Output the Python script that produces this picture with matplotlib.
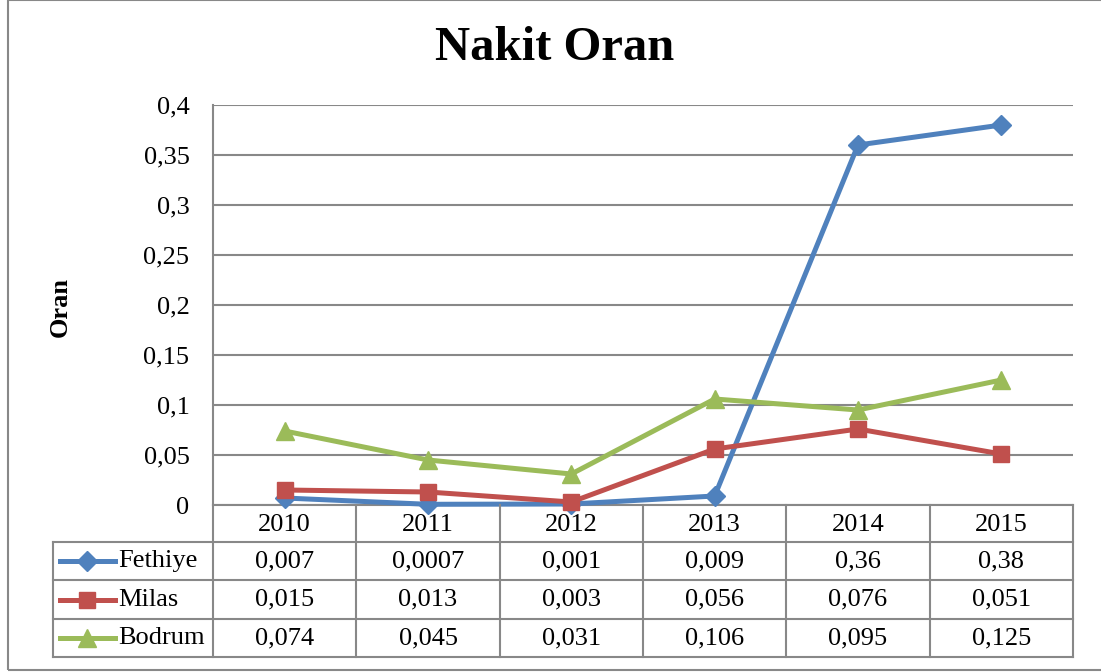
import numpy as np
import matplotlib.pyplot as plt
from matplotlib.patches import Rectangle
from matplotlib.lines import Line2D

plt.rcParams['font.family'] = ['Liberation Serif', 'DejaVu Serif']

years = ['2010', '2011', '2012', '2013', '2014', '2015']
fethiye = [0.007, 0.0007, 0.001, 0.009, 0.36, 0.38]
milas = [0.015, 0.013, 0.003, 0.056, 0.076, 0.051]
bodrum = [0.074, 0.045, 0.031, 0.106, 0.095, 0.125]
names = ['Fethiye', 'Milas', 'Bodrum']
colors = ['#4F81BD', '#C0504D', '#9BBB59']
markers = ['D', 's', '^']
msizes = [10, 12, 13]
yticks = [0, 0.05, 0.1, 0.15, 0.2, 0.25, 0.3, 0.35, 0.4]

W, H = 1101, 672
fig = plt.figure(figsize=(W / 100, H / 100), dpi=100)
grid_c = '#888888'
fs = 19

# outer border
fig.patches.append(Rectangle((8 / W, 1 - 670 / H), 1.2, 670 / H, transform=fig.transFigure,
                             fill=False, edgecolor=grid_c, lw=1.5))

# plot area (pixels 213..1073 x 105..505)
x0, x1, ytop, ybot = 213, 1073, 105, 505
ax = fig.add_axes([x0 / W, 1 - ybot / H, (x1 - x0) / W, (ybot - ytop) / H])
x = np.arange(len(years))
for vals, c, m, ms, n in zip([fethiye, milas, bodrum], colors, markers, msizes, names):
    ax.plot(x, vals, color=c, lw=3.6, marker=m, ms=ms, label=n, clip_on=False, zorder=3)
ax.set_xlim(-0.5, len(years) - 0.5)
ax.set_ylim(0, 0.4)
ax.set_yticks(yticks)
ax.set_yticklabels([f'{v:g}'.replace('.', ',') for v in yticks], fontsize=fs)
ax.set_xticks([])
ax.tick_params(axis='y', length=0, pad=17)
ax.grid(axis='y', color=grid_c, lw=1.5)
ax.set_axisbelow(True)
for s in ['top', 'right']:
    ax.spines[s].set_visible(False)
for s in ['left', 'bottom']:
    ax.spines[s].set_color(grid_c)
    ax.spines[s].set_linewidth(1.5)

fig.text(555 / W, 1 - 48 / H, 'Nakit Oran', ha='center', va='center', fontsize=35, fontweight='bold')
fig.text(60 / W, 1 - 307 / H, 'Oran', ha='center', va='center', rotation=90, fontsize=fs, fontweight='bold')

# data table below the plot
lx, tb = 53, 657
rows_y = [505, 542, 580, 619, 657]
unit = (x1 - x0) / len(years)
tab = fig.add_axes([lx / W, 1 - tb / H, (x1 - lx) / W, (tb - 505) / H])
tab.set_xlim(lx, x1)
tab.set_ylim(tb, 505)
tab.axis('off')
lk = dict(color=grid_c, lw=1.5, clip_on=False)
for i in range(len(years) + 1):
    tab.plot([x0 + i * unit] * 2, [505, tb], **lk)
tab.plot([lx, lx], [rows_y[1], tb], **lk)
for yy in rows_y[1:]:
    tab.plot([lx, x1], [yy, yy], **lk)
for i, yr in enumerate(years):
    tab.text(x0 + (i + 0.5) * unit, (rows_y[0] + rows_y[1]) / 2 + 1, yr, ha='center', va='center', fontsize=fs)
for r, (vals, c, m, ms, n) in enumerate(zip([fethiye, milas, bodrum], colors, markers, msizes, names)):
    yc = (rows_y[r + 1] + rows_y[r + 2]) / 2
    tab.add_line(Line2D([60, 115], [yc, yc], color=c, lw=3.6))
    tab.add_line(Line2D([87], [yc], color=c, marker=m, ms=ms))
    tab.text(118, yc, n, ha='left', va='center', fontsize=fs)
    for i, v in enumerate(vals):
        tab.text(x0 + (i + 0.5) * unit, yc, f'{v:g}'.replace('.', ','), ha='center', va='center', fontsize=fs)

fig.savefig('out.png', dpi=100)
